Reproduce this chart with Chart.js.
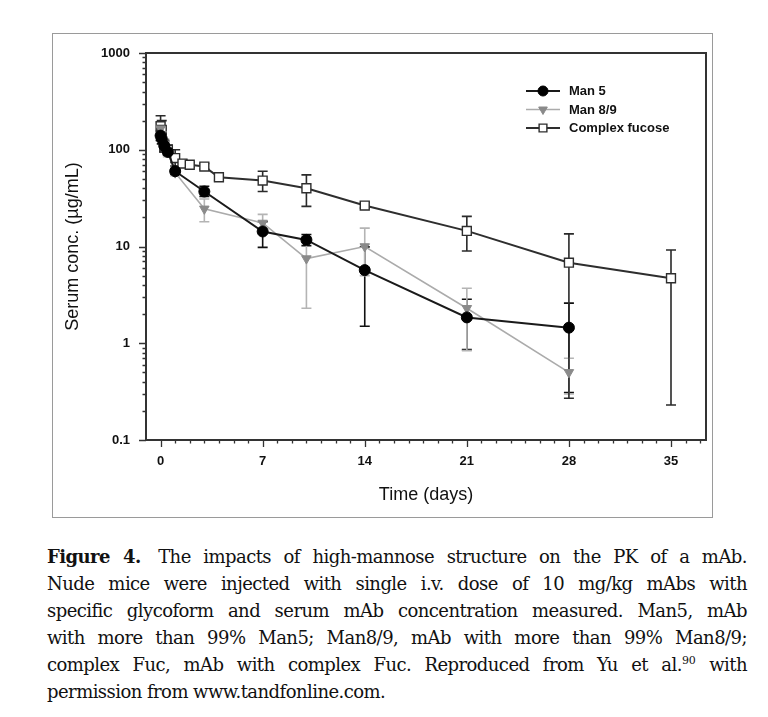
<!DOCTYPE html>
<html>
<head>
<meta charset="utf-8">
<script src="https://cdn.jsdelivr.net/npm/chart.js@4/dist/chart.umd.min.js"></script>
<style>
  body { margin: 0; background: #fff; width: 768px; height: 717px; overflow: hidden; position: relative; }
  #frame { position: absolute; left: 52px; top: 33px; width: 661px; height: 485px; border: 1.5px solid #9a9a9a; box-sizing: border-box; }
  #chart { position: absolute; left: 0; top: 0; }
  #caption { position: absolute; left: 47px; top: 543px; width: 700px; font-family: "DejaVu Serif", serif; font-size: 18px; letter-spacing: -0.55px; line-height: 27px; color: #111; }
  #caption div { white-space: nowrap; text-align: justify; text-align-last: justify; }
  #caption div.last { text-align-last: left; }
  #caption sup { font-size: 11px; line-height: 0; vertical-align: 7px; letter-spacing: 0; }
</style>
</head>
<body>
<div id="frame"></div>
<canvas id="chart" width="768" height="530"></canvas>
<div id="caption">
  <div><b>Figure 4.</b>&emsp;The impacts of high-mannose structure on the PK of a mAb.</div>
  <div>Nude mice were injected with single i.v. dose of 10 mg/kg mAbs with</div>
  <div>specific glycoform and serum mAb concentration measured. Man5, mAb</div>
  <div>with more than 99% Man5; Man8/9, mAb with more than 99% Man8/9;</div>
  <div>complex Fuc, mAb with complex Fuc. Reproduced from Yu et al.<sup>90</sup> with</div>
  <div class="last">permission from www.tandfonline.com.</div>
</div>
<script>
// Serum concentration (ug/mL) vs time (days)
const man5Days = [0, 0.08, 0.25, 0.5, 1, 3, 7, 10, 14, 21, 28];
const man5Conc = [140, 130, 110, 95, 60, 37, 14.3, 11.7, 5.7, 1.85, 1.45];
const man5Low  = [125, 115, 95, 88, 56, 33, 9.8, 10.2, 1.5, 0.86, 0.31];
const man5High = [155, 145, 125, 102, 64, 42, 18, 13.3, 9.9, 2.85, 2.6];

const man89Days = [0, 0.08, 0.25, 0.5, 1, 3, 7, 10, 14, 21, 28];
const man89Conc = [165, 145, 115, 95, 58, 24.5, 17.5, 7.5, 10, 2.3, 0.5];
const man89Low  = [140, 125, 100, 85, 54, 18, 14, 2.3, 5, 0.84, 0.3];
const man89High = [190, 165, 130, 105, 62, 31, 21.5, 12.7, 15.5, 3.7, 0.7];

const fucDays = [0, 0.08, 0.25, 0.5, 1, 1.5, 2, 3, 4, 7, 10, 14, 21, 28, 35];
const fucConc = [175, 160, 110, 100, 82, 72, 70, 67, 52, 48, 40, 26.5, 14.5, 6.8, 4.7];
const fucLow  = [140, 130, 95, 88, 68, 66, 66, 63, 48, 37, 26, 25, 9, 0.27, 0.23];
const fucHigh = [225, 200, 125, 112, 100, 78, 74, 72, 56, 60, 55, 28.5, 20.5, 13.5, 9.2];

const xTickValues = [0, 7, 14, 21, 28, 35];
const xTickLabels = ['0', '7', '14', '21', '28', '35'];
const yTickValues = [0.1, 1, 10, 100, 1000];
const yTickLabels = ['0.1', '1', '10', '100', '1000'];

function points(days, conc) {
    return days.map((d, i) => ({ x: d, y: conc[i] }));
}

// Error bars drawn from the low/high arrays through the scales
const errorBars = {
    id: 'errorBars',
    beforeDatasetsDraw: function (chart) {
        const ctx = chart.ctx;
        const x = chart.scales.x, y = chart.scales.y;
        chart.data.datasets.forEach(ds => {
            ctx.save();
            ctx.strokeStyle = ds.errColor;
            ctx.lineWidth = 1.6;
            ds.data.forEach((p, j) => {
                const px = x.getPixelForValue(p.x);
                const lo = y.getPixelForValue(ds.errLow[j]);
                const hi = y.getPixelForValue(ds.errHigh[j]);
                ctx.beginPath();
                ctx.moveTo(px, lo); ctx.lineTo(px, hi);
                ctx.moveTo(px - 5, lo); ctx.lineTo(px + 5, lo);
                ctx.moveTo(px - 5, hi); ctx.lineTo(px + 5, hi);
                ctx.stroke();
            });
            ctx.restore();
        });
    }
};

// Plot frame and outward tick marks (long for major, short for minor)
const frameTicks = {
    id: 'frameTicks',
    afterDraw: function (chart) {
        const ctx = chart.ctx;
        const a = chart.chartArea;
        const x = chart.scales.x, y = chart.scales.y;
        ctx.save();
        ctx.strokeStyle = '#333';
        ctx.lineWidth = 2;
        ctx.strokeRect(a.left, a.top, a.right - a.left, a.bottom - a.top);
        ctx.lineWidth = 1.3;
        ctx.beginPath();
        y.ticks.forEach(t => {
            const py = Math.round(y.getPixelForValue(t.value)) + 0.5;
            const len = t.major ? 7 : 3.5;
            ctx.moveTo(a.left - len, py); ctx.lineTo(a.left, py);
        });
        x.ticks.forEach(t => {
            const px = Math.round(x.getPixelForValue(t.value)) + 0.5;
            const len = t.major ? 7 : 3.5;
            ctx.moveTo(px, a.bottom); ctx.lineTo(px, a.bottom + len);
        });
        ctx.stroke();
        ctx.restore();
    }
};

// Legend: line sample with marker, like the original figure
const lineLegend = {
    id: 'lineLegend',
    afterDraw: function (chart) {
        const ctx = chart.ctx;
        ctx.save();
        chart.data.datasets.forEach((ds, i) => {
            const ly = 91 + i * 18.5;
            ctx.strokeStyle = ds.borderColor;
            ctx.lineWidth = ds.borderWidth;
            ctx.beginPath();
            ctx.moveTo(526, ly); ctx.lineTo(560, ly);
            ctx.stroke();
            ctx.fillStyle = ds.pointBackgroundColor;
            ctx.strokeStyle = ds.pointBorderColor;
            ctx.lineWidth = ds.pointBorderWidth;
            Chart.helpers.drawPoint(ctx, {
                pointStyle: ds.pointStyle,
                rotation: ds.pointRotation || 0,
                radius: ds.legendRadius,
                borderWidth: ds.pointBorderWidth
            }, 543, ly);
            ctx.fillStyle = '#111';
            ctx.font = 'bold 13px "Liberation Sans", Arial, sans-serif';
            ctx.textBaseline = 'middle';
            ctx.fillText(ds.label, 569, ly + 0.5);
        });
        ctx.restore();
    }
};

const tickFont = { family: '"Liberation Sans", Arial, sans-serif', size: 13, weight: 'bold' };
const titleFont = { family: '"Liberation Sans", Arial, sans-serif', size: 18 };

new Chart(document.getElementById('chart'), {
    type: 'line',
    data: {
        datasets: [{
            label: 'Man 5',
            data: points(man5Days, man5Conc),
            errLow: man5Low,
            errHigh: man5High,
            errColor: '#111',
            borderColor: '#1a1a1a',
            borderWidth: 2,
            pointStyle: 'circle',
            pointRadius: 5.5,
            legendRadius: 5,
            pointBackgroundColor: '#000',
            pointBorderColor: '#000',
            pointBorderWidth: 1,
            tension: 0
        }, {
            label: 'Man 8/9',
            data: points(man89Days, man89Conc),
            errLow: man89Low,
            errHigh: man89High,
            errColor: '#b4b4b4',
            borderColor: '#ababab',
            borderWidth: 1.6,
            pointStyle: 'triangle',
            pointRotation: 180,
            pointRadius: 5.5,
            legendRadius: 5,
            pointBackgroundColor: '#8a8a8a',
            pointBorderColor: '#8a8a8a',
            pointBorderWidth: 1,
            tension: 0
        }, {
            label: 'Complex fucose',
            data: points(fucDays, fucConc),
            errLow: fucLow,
            errHigh: fucHigh,
            errColor: '#2a2a2a',
            borderColor: '#2e2e2e',
            borderWidth: 2,
            pointStyle: 'rect',
            pointRadius: 6.3,
            legendRadius: 5.5,
            pointBackgroundColor: '#fff',
            pointBorderColor: '#2e2e2e',
            pointBorderWidth: 1.4,
            tension: 0
        }]
    },
    options: {
        responsive: false,
        animation: false,
        devicePixelRatio: 1,
        layout: { padding: { left: 0, top: 53, right: 62, bottom: 0 } },
        plugins: {
            legend: { display: false },
            tooltip: { enabled: false }
        },
        scales: {
            x: {
                type: 'linear',
                min: -1,
                max: 37.4,
                afterBuildTicks: function (scale) {
                    const ticks = [];
                    for (let d = 0; d <= 37; d++) {
                        ticks.push({ value: d, major: xTickValues.includes(d) });
                    }
                    scale.ticks = ticks;
                },
                afterFit: function (scale) { scale.height = 90; },
                grid: { display: false, drawTicks: false },
                border: { display: false },
                ticks: {
                    autoSkip: false,
                    maxRotation: 0,
                    padding: 14,
                    color: '#111',
                    font: tickFont,
                    callback: function (value) {
                        const k = xTickValues.indexOf(value);
                        return k >= 0 ? xTickLabels[k] : '';
                    }
                },
                title: {
                    display: true,
                    text: 'Time (days)',
                    color: '#111',
                    font: titleFont,
                    padding: { top: 0, bottom: 24 }
                }
            },
            y: {
                type: 'logarithmic',
                min: 0.1,
                max: 1000,
                afterBuildTicks: function (scale) {
                    const ticks = [];
                    for (let e = -1; e < 3; e++) {
                        for (let k = 1; k <= 9; k++) {
                            ticks.push({ value: k * Math.pow(10, e), major: k === 1 });
                        }
                    }
                    ticks.push({ value: 1000, major: true });
                    scale.ticks = ticks;
                },
                afterFit: function (scale) { scale.width = 146; },
                grid: { display: false, drawTicks: false },
                border: { display: false },
                ticks: {
                    autoSkip: false,
                    padding: 16,
                    color: '#111',
                    font: tickFont,
                    callback: function (value) {
                        const k = yTickValues.findIndex(v => Math.abs(v - value) < 1e-9);
                        return k >= 0 ? yTickLabels[k] : '';
                    }
                },
                title: {
                    display: true,
                    text: 'Serum conc. (µg/mL)',
                    color: '#111',
                    font: titleFont,
                    padding: { top: 62, bottom: 0 }
                }
            }
        }
    },
    plugins: [errorBars, frameTicks, lineLegend]
});
</script>
</body>
</html>
